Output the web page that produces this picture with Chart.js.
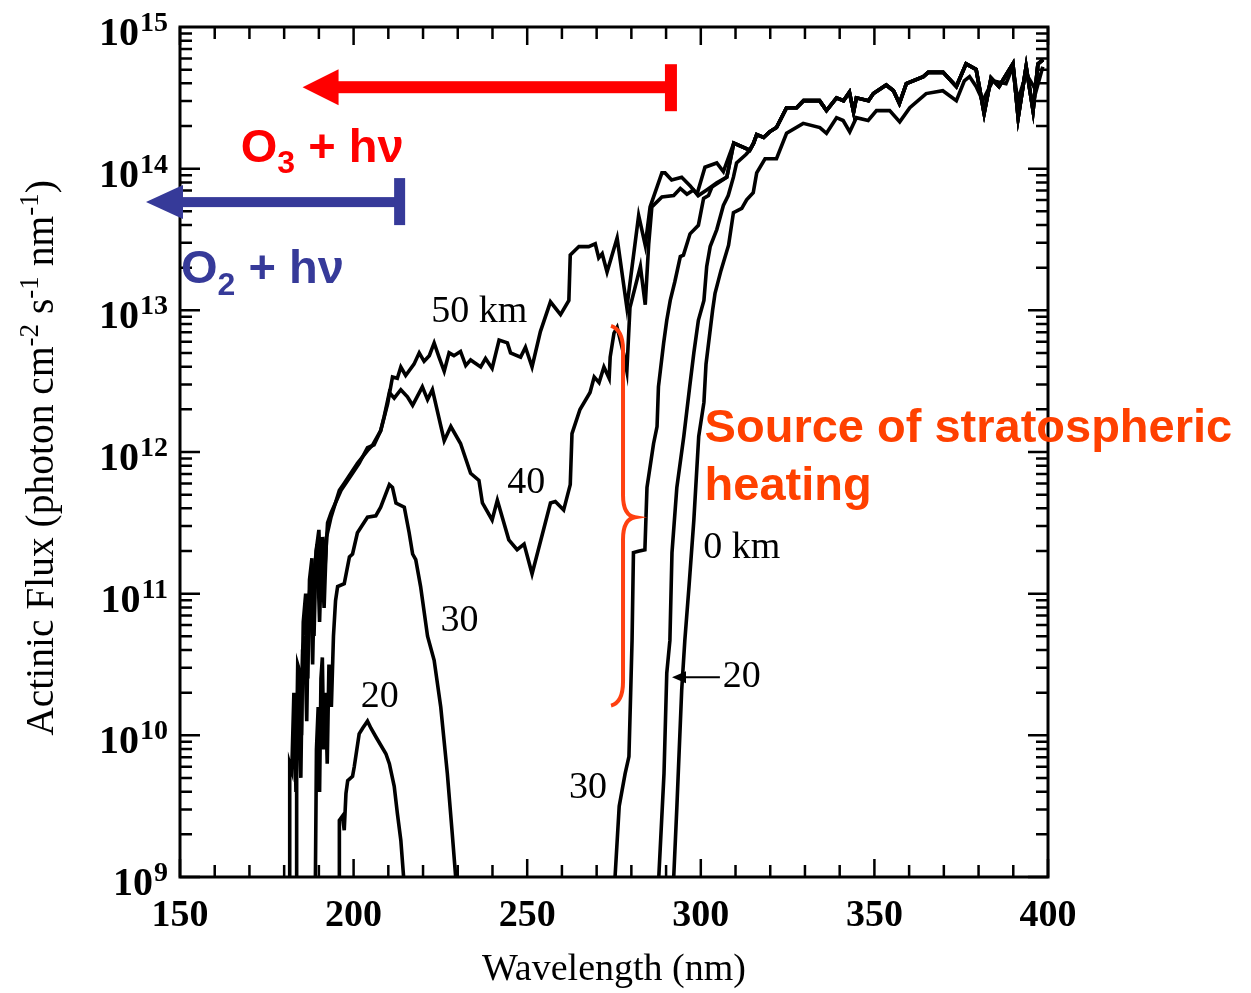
<!DOCTYPE html>
<html>
<head>
<meta charset="utf-8">
<script src="https://cdn.jsdelivr.net/npm/chart.js@4.4.1/dist/chart.umd.min.js"></script>
<style>
  html, body { margin: 0; padding: 0; background: #fff; }
  canvas { display: block; }
</style>
</head>
<body>
<canvas id="fluxChart" width="1251" height="993"></canvas>
<script>
// Actinic flux vs wavelength at several altitudes
// each point: [wavelength nm, log10 flux]
const km50 = [[181.5,9.0],[181.6,9.8],[182.2,9.75],[182.8,10.3],[183.4,9.6],[183.9,10.5],[184.5,10.45],[185.0,10.0],[185.5,10.8],[186.2,11.0],[186.8,10.4],[187.3,11.1],[188.0,11.25],[188.6,10.7],[189.2,11.3],[190.0,11.45],[190.6,11.0],[191.1,11.4],[191.8,11.2],[192.5,11.5],[193.5,11.57],[196.4,11.73],[199.7,11.85],[201.6,11.92],[204.0,12.03],[205.9,12.05],[207.8,12.15],[209.8,12.34],[211.2,12.53],[212.6,12.52],[213.6,12.60],[215.0,12.54],[217.4,12.62],[218.9,12.70],[220.3,12.64],[221.8,12.68],[223.2,12.77],[224.6,12.67],[226.1,12.57],[227.5,12.70],[228.9,12.68],[230.8,12.71],[232.3,12.61],[233.7,12.65],[236.6,12.60],[238.0,12.66],[239.9,12.59],[241.9,12.79],[244.3,12.77],[245.2,12.70],[248.1,12.67],[249.5,12.74],[251.4,12.60],[253.8,12.85],[256.7,13.06],[259.6,12.97],[262.0,13.07],[262.4,13.39],[264.9,13.45],[267.7,13.45],[269.6,13.47],[270.6,13.37],[271.6,13.40],[273.0,13.27],[275.9,13.51],[278.7,13.02],[282.1,13.67],[284.0,13.46],[285.4,13.73],[288.8,13.97],[289.7,13.97],[291.6,13.92],[294.5,13.94],[296.9,13.88],[298.9,13.82],[301.2,14.01],[304.6,14.04],[306.5,13.98]];
const km40 = [[183.5,9.0],[183.6,9.9],[184.2,10.2],[184.8,9.7],[185.3,10.6],[185.9,10.7],[186.5,10.1],[187.0,10.9],[187.6,11.1],[188.2,10.5],[188.8,11.2],[189.5,11.35],[190.2,10.8],[190.8,11.3],[191.5,10.9],[192.2,11.4],[193.5,11.54],[195.9,11.73],[197.3,11.78],[201.1,11.92],[204.0,12.01],[205.5,12.05],[207.8,12.15],[208.8,12.25],[210.3,12.42],[211.7,12.38],[213.6,12.44],[215.5,12.39],[217.0,12.33],[219.8,12.46],[221.3,12.37],[222.7,12.44],[226.1,12.08],[228.0,12.18],[230.8,12.06],[233.7,11.85],[236.1,11.80],[237.1,11.64],[239.9,11.52],[241.4,11.66],[244.7,11.38],[247.1,11.31],[249.1,11.35],[251.4,11.14],[256.7,11.64],[258.1,11.65],[260.5,11.59],[262.4,11.77],[262.9,12.13],[265.2,12.30],[268.1,12.42],[269.3,12.53],[270.7,12.49],[272.1,12.60],[273.6,12.52],[273.9,12.67],[275.0,12.84],[275.9,12.88],[277.8,12.69],[278.7,12.57],[279.6,13.02],[282.6,13.31],[284.0,13.04],[285.0,13.47],[285.9,13.73],[288.8,13.80],[292.2,13.81],[294.1,13.86],[296.0,13.82],[297.9,13.85],[299.3,13.81],[301.7,13.85],[304.6,13.90],[307.5,13.94]];
const km30Short = [[189.0,9.0],[189.3,9.9],[189.8,10.2],[190.2,9.6],[190.6,10.4],[191.0,10.55],[191.4,9.9],[191.9,10.3],[192.4,9.8],[192.9,10.5],[193.6,10.2],[194.2,10.7],[194.8,10.95],[195.4,11.05],[197.3,11.07],[198.8,11.26],[199.7,11.28],[201.1,11.43],[204.0,11.54],[206.4,11.55],[207.8,11.61],[210.3,11.77],[211.2,11.75],[212.2,11.64],[214.6,11.61],[216.0,11.43],[217.0,11.28],[217.9,11.24],[219.3,11.05],[221.3,10.70],[223.2,10.53],[225.1,10.20],[227.0,9.73],[228.4,9.31],[229.4,9.0]];
const km30Long = [[275.3,9.0],[276.5,9.5],[278.2,9.73],[279.3,9.85],[279.8,10.3],[280.2,10.67],[280.6,11.29],[282.0,11.3],[283.9,11.31],[284.5,11.75],[286.4,12.06],[287.4,12.18],[287.8,12.46],[289.3,12.77],[290.2,12.93],[291.2,13.07],[292.5,13.2],[294.1,13.38],[295.0,13.39],[296.9,13.54],[299.3,13.60],[300.8,13.79],[302.2,13.81],[303.2,13.87],[307.5,13.94]];
const km20Short = [[195.9,9.0],[195.9,9.40],[196.8,9.43],[197.3,9.33],[197.8,9.59],[198.3,9.68],[199.7,9.71],[200.2,9.78],[201.6,10.01],[202.6,10.05],[204.0,10.10],[205.0,10.05],[206.4,9.99],[209.3,9.87],[210.3,9.80],[211.7,9.64],[212.6,9.45],[213.6,9.26],[214.4,9.0]];
const km20Long = [[287.9,9.0],[289.4,9.73],[290.2,10.44],[291.1,10.67],[291.7,11.29],[293.1,11.75],[295.1,12.11],[296.8,12.46],[298.0,12.70],[299.3,12.93],[300.9,13.07],[301.7,13.31],[302.7,13.45],[304.6,13.57],[306.5,13.74],[307.9,13.81],[309.4,13.94],[310.3,14.04],[313.0,14.10]];
// upper branch shared by 50, 40, 30 and 20 km above ~310 nm
const upperTail = [[309.5,14.18],[314.1,14.13],[315.2,14.18],[316.1,14.24],[318.1,14.22],[319.8,14.26],[321.8,14.29],[324.7,14.43],[327.6,14.43],[329.6,14.48],[334.2,14.48],[336.2,14.41],[339.1,14.50],[341.1,14.48],[342.8,14.54],[344.0,14.40],[344.8,14.50],[348.3,14.48],[349.7,14.53],[353.4,14.59],[355.5,14.55],[357.2,14.46],[359.2,14.60],[364.1,14.65],[365.5,14.68],[369.8,14.68],[373.6,14.58],[376.4,14.74],[379.3,14.70],[381.6,14.39],[383.6,14.64],[385.9,14.58],[389.9,14.74],[391.4,14.36],[393.7,14.72],[395.7,14.41],[397.1,14.74],[398.6,14.77]];
const km0 = [[292.2,9.0],[293.1,9.49],[294.5,10.32],[295.4,10.67],[296.6,11.05],[298.0,11.52],[299.4,12.11],[300.9,12.35],[301.5,12.62],[303.4,13.0],[304.1,13.12],[305.8,13.28],[308.0,13.46],[309.4,13.69],[311.8,13.72],[313.2,13.78],[315.1,13.83],[316.1,13.97],[318.5,14.07],[321.8,14.07],[324.7,14.25],[329.5,14.32],[334.3,14.29],[336.2,14.25],[339.1,14.36],[341.0,14.34],[342.9,14.26],[344.8,14.36],[348.2,14.34],[350.6,14.41],[354.4,14.41],[357.3,14.33],[360.2,14.43],[364.9,14.53],[369.7,14.55],[373.6,14.48],[375.9,14.62],[377.4,14.65],[379.3,14.58],[381.2,14.48],[384.1,14.62],[387.9,14.60],[389.9,14.72],[391.3,14.48],[393.7,14.67],[396.6,14.55],[398.5,14.72]];

const xLabelTicks = [150, 200, 250, 300, 350, 400];
const yDecades = [9, 10, 11, 12, 13, 14, 15];

// curve labels: [text, nm, log10 flux]
const curveLabels = [['50 km', 236.2, 12.99], ['40', 249.7, 11.78], ['30', 230.5, 10.81], ['20', 207.5, 10.27], ['0 km', 311.8, 11.32], ['30', 267.5, 9.63], ['20', 311.8, 10.41]];

const SERIF = '"Liberation Serif", "Times New Roman", serif';
const SANS = '"Liberation Sans", Arial, sans-serif';

function withTail(pairs) {
  const last = pairs[pairs.length - 1][0];
  return pairs.concat(upperTail.filter(p => p[0] > last));
}
function toPoints(pairs) {
  return pairs.map(p => ({ x: p[0], y: Math.pow(10, p[1]) }));
}
function line(label, pairs) {
  return { label: label, data: toPoints(pairs), borderColor: '#000', borderWidth: 3.6, pointRadius: 0, tension: 0, fill: false };
}

function drawRuns(ctx, runs, x0, y0, weight, family, align) {
  let total = 0;
  runs.forEach(r => { ctx.font = weight + ' ' + r.size + 'px ' + family; r.w = ctx.measureText(r.t).width; total += r.w; });
  let cx = align === 'center' ? x0 - total / 2 : x0;
  ctx.textAlign = 'left';
  ctx.textBaseline = 'alphabetic';
  runs.forEach(r => { ctx.font = weight + ' ' + r.size + 'px ' + family; ctx.fillText(r.t, cx, y0 + (r.dy || 0)); cx += r.w; });
}

const decorations = {
  id: 'decorations',
  afterDraw(chart) {
    const ctx = chart.ctx, a = chart.chartArea, xs = chart.scales.x, ys = chart.scales.y;
    const px = v => xs.getPixelForValue(v);
    const py = e => ys.getPixelForValue(Math.pow(10, e));
    ctx.save();

    // inward ticks
    ctx.strokeStyle = '#000';
    ctx.lineWidth = 2.5;
    ctx.beginPath();
    xs.ticks.forEach(t => {
      const X = px(t.value), len = t.value % 50 === 0 ? 18 : 12;
      ctx.moveTo(X, a.bottom); ctx.lineTo(X, a.bottom - len);
      ctx.moveTo(X, a.top); ctx.lineTo(X, a.top + len);
    });
    for (let d = 9; d < 15; d++) {
      for (let m = 1; m < 10; m++) {
        const Y = ys.getPixelForValue(m * Math.pow(10, d)), len = m === 1 ? 20 : 12;
        ctx.moveTo(a.left, Y); ctx.lineTo(a.left + len, Y);
        ctx.moveTo(a.right, Y); ctx.lineTo(a.right - len, Y);
      }
    }
    ctx.stroke();

    // frame
    ctx.lineWidth = 3;
    ctx.strokeRect(a.left, a.top, a.right - a.left, a.bottom - a.top);

    // y tick labels 10^n
    ctx.fillStyle = '#000';
    yDecades.forEach(d => {
      const Y = py(d);
      const right = a.left - 12;
      ctx.font = 'bold 28px ' + SERIF;
      const ew = ctx.measureText(String(d)).width;
      ctx.textAlign = 'left'; ctx.textBaseline = 'alphabetic';
      ctx.fillText(String(d), right - ew, Y + 4);
      ctx.font = 'bold 40px ' + SERIF;
      ctx.textAlign = 'right';
      ctx.fillText('10', right - ew - 1, Y + 18);
    });

    // y axis title
    ctx.save();
    ctx.translate(53, (a.top + a.bottom) / 2 + 6);
    ctx.rotate(-Math.PI / 2);
    drawRuns(ctx, [
      { t: 'Actinic Flux (photon cm', size: 39.5 }, { t: '-2', size: 27, dy: -15 },
      { t: ' s', size: 39.5 }, { t: '-1', size: 27, dy: -15 },
      { t: ' nm', size: 39.5 }, { t: '-1', size: 27, dy: -15 }, { t: ')', size: 39.5 }
    ], 0, 0, 'normal', SERIF, 'center');
    ctx.restore();

    // curve labels
    ctx.font = '38px ' + SERIF;
    ctx.textAlign = 'center'; ctx.textBaseline = 'middle';
    curveLabels.forEach(l => ctx.fillText(l[0], px(l[1]), py(l[2])));
    // arrow pointing to the 20 km curve
    const ay = py(10.41), ax0 = px(305.5), ax1 = px(291.7);
    ctx.lineWidth = 2;
    ctx.beginPath(); ctx.moveTo(ax0, ay); ctx.lineTo(ax1 + 8, ay); ctx.stroke();
    ctx.beginPath(); ctx.moveTo(ax1, ay); ctx.lineTo(ax1 + 14, ay - 6); ctx.lineTo(ax1 + 14, ay + 6); ctx.closePath(); ctx.fill();

    // O3 photolysis arrow (red)
    ctx.fillStyle = '#ff0000';
    let Y = py(14.575), tip = px(185.3), bar = px(291.4);
    ctx.fillRect(tip + 30, Y - 6, bar - tip - 30, 12);
    ctx.fillRect(bar - 6, Y - 23, 12, 47);
    ctx.beginPath(); ctx.moveTo(tip, Y); ctx.lineTo(tip + 36, Y - 18); ctx.lineTo(tip + 36, Y + 18); ctx.closePath(); ctx.fill();
    drawRuns(ctx, [{ t: 'O', size: 47 }, { t: '3', size: 32, dy: 11 }, { t: ' + h\u03bd', size: 47 }], px(167.5), py(14.046), 'bold', SANS, 'left');

    // O2 photolysis arrow (blue)
    ctx.fillStyle = '#363a99';
    Y = py(13.764); tip = px(140.2); bar = px(213.4);
    ctx.fillRect(tip + 30, Y - 5, bar - tip - 30, 10);
    ctx.fillRect(bar - 6, Y - 24, 11, 47);
    ctx.beginPath(); ctx.moveTo(tip, Y); ctx.lineTo(tip + 37, Y - 17); ctx.lineTo(tip + 37, Y + 17); ctx.closePath(); ctx.fill();
    drawRuns(ctx, [{ t: 'O', size: 47 }, { t: '2', size: 32, dy: 12 }, { t: ' + h\u03bd', size: 47 }], px(150.3), py(13.19), 'bold', SANS, 'left');

    // brace + note
    ctx.strokeStyle = '#ff4010'; ctx.fillStyle = '#ff4000';
    ctx.lineWidth = 4;
    const sx = px(277.6), top = py(12.89), mid = py(11.54), bot = py(10.21);
    ctx.beginPath();
    ctx.moveTo(sx - 12, top);
    ctx.quadraticCurveTo(sx, top + 4, sx, top + 24);
    ctx.lineTo(sx, mid - 22);
    ctx.quadraticCurveTo(sx, mid - 2, sx + 12, mid);
    ctx.quadraticCurveTo(sx, mid + 2, sx, mid + 22);
    ctx.lineTo(sx, bot - 24);
    ctx.quadraticCurveTo(sx, bot - 3, sx - 12, bot);
    ctx.stroke();
    ctx.font = 'bold 47px ' + SANS;
    ctx.textAlign = 'left'; ctx.textBaseline = 'alphabetic';
    ctx.fillText('Source of stratospheric', px(301.1), py(12.07));
    ctx.fillText('heating', px(301.1), py(11.66));

    ctx.restore();
  }
};

new Chart(document.getElementById('fluxChart'), {
  type: 'line',
  data: {
    datasets: [
      line('50 km', withTail(km50)),
      line('40 km', withTail(km40)),
      line('30 km', km30Short),
      line('30 km', withTail(km30Long)),
      line('20 km', km20Short),
      line('20 km', withTail(km20Long)),
      line('0 km', km0)
    ]
  },
  options: {
    responsive: false,
    animation: false,
    devicePixelRatio: 1,
    layout: { padding: { top: 27, right: 203, left: 0, bottom: 0 } },
    plugins: { legend: { display: false }, tooltip: { enabled: false } },
    scales: {
      x: {
        type: 'linear', min: 150, max: 400,
        grid: { display: false, drawTicks: false },
        border: { display: false },
        ticks: {
          stepSize: 10, autoSkip: false, maxRotation: 0, padding: 16, color: '#000',
          font: { family: SERIF, size: 38, weight: 'bold' },
          callback: v => xLabelTicks.includes(v) ? String(v) : ''
        },
        title: { display: true, text: 'Wavelength (nm)', color: '#000', font: { family: SERIF, size: 38 }, padding: { top: 0, bottom: 0 } },
        afterFit(s) { s.height = 116; }
      },
      y: {
        type: 'logarithmic', min: 1e9, max: 1e15,
        grid: { display: false, drawTicks: false },
        border: { display: false },
        ticks: { display: false },
        afterFit(s) { s.width = 180; }
      }
    }
  },
  plugins: [decorations]
});
</script>
</body>
</html>
